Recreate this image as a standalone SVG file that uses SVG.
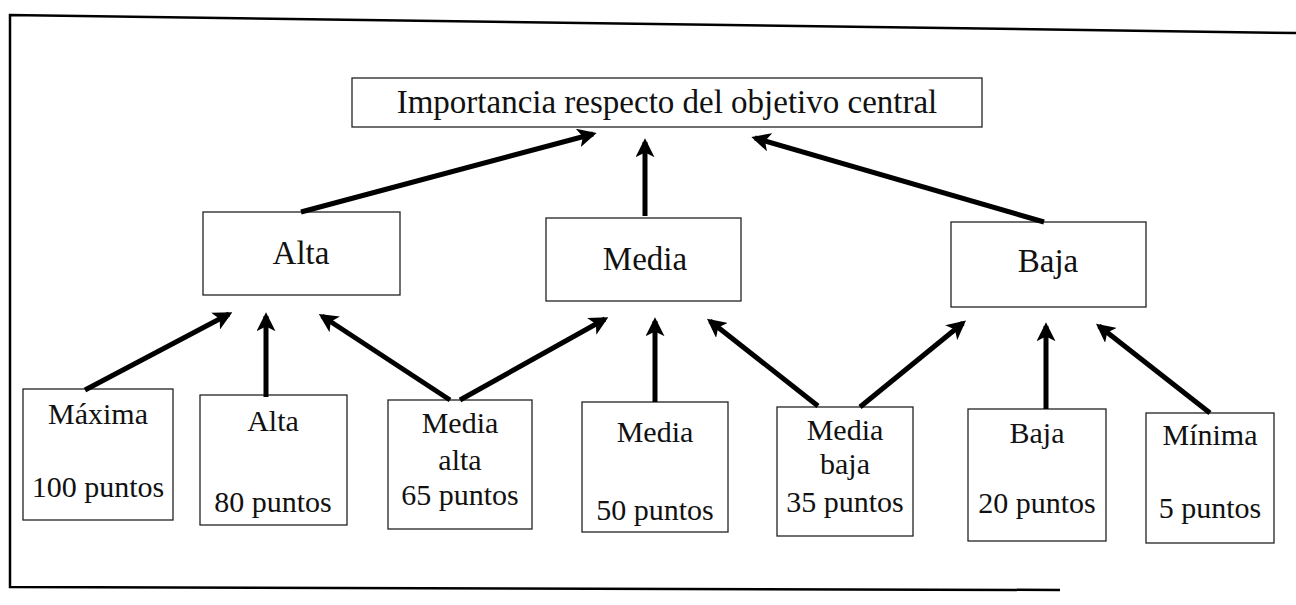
<svg xmlns="http://www.w3.org/2000/svg" width="1296" height="605" viewBox="0 0 1296 605">
<defs>
<style>
.box{fill:#fff;stroke:#222;stroke-width:1.3}
.t{font-family:"Liberation Serif","Times New Roman",serif;fill:#111;text-anchor:middle}
.big{font-size:33px}
.sm{font-size:30px}
.ar{stroke:#000;stroke-width:5;fill:none;marker-end:url(#ah)}
.frame{stroke:#000;stroke-width:2.5;fill:none}
</style>
<marker id="ah" viewBox="0 0 10 10" refX="8" refY="5" markerWidth="3.8" markerHeight="3.8" orient="auto" markerUnits="strokeWidth">
<path d="M0,0 L10,5 L0,10 L2.5,5 z" fill="#000"/>
</marker>
</defs>
<rect width="1296" height="605" fill="#fff"/>
<g id="frame">
<path class="frame" d="M1296,33 L10,15 L10,587 L1060,590"/>
</g>
<g id="top">
<rect class="box" x="352" y="78" width="630" height="49"/>
<text class="t big" x="667" y="113">Importancia respecto del objetivo central</text>
</g>
<g id="alta">
<rect class="box" x="203" y="212" width="197" height="83"/>
<text class="t big" x="301" y="264">Alta</text>
</g>
<g id="media">
<rect class="box" x="546" y="218" width="195" height="83"/>
<text class="t big" x="645" y="270">Media</text>
</g>
<g id="baja">
<rect class="box" x="951" y="222" width="195" height="85"/>
<text class="t big" x="1048" y="272">Baja</text>
</g>
<g id="maxima">
<rect class="box" x="23" y="389" width="150" height="131"/>
<text class="t sm" x="98" y="424">Máxima</text>
<text class="t sm" x="98" y="497">100 puntos</text>
</g>
<g id="alta2">
<rect class="box" x="200" y="395" width="147" height="130"/>
<text class="t sm" x="273" y="431">Alta</text>
<text class="t sm" x="273" y="512">80 puntos</text>
</g>
<g id="mediaalta">
<rect class="box" x="388" y="400" width="144" height="129"/>
<text class="t sm" x="460" y="433">Media</text>
<text class="t sm" x="460" y="470">alta</text>
<text class="t sm" x="460" y="505">65 puntos</text>
</g>
<g id="media2">
<rect class="box" x="582" y="402" width="146" height="130"/>
<text class="t sm" x="655" y="442">Media</text>
<text class="t sm" x="655" y="520">50 puntos</text>
</g>
<g id="mediabaja">
<rect class="box" x="777" y="407" width="136" height="129"/>
<text class="t sm" x="845" y="440">Media</text>
<text class="t sm" x="845" y="474">baja</text>
<text class="t sm" x="845" y="512">35 puntos</text>
</g>
<g id="baja2">
<rect class="box" x="968" y="409" width="138" height="132"/>
<text class="t sm" x="1037" y="443">Baja</text>
<text class="t sm" x="1037" y="513">20 puntos</text>
</g>
<g id="minima">
<rect class="box" x="1146" y="413" width="128" height="130"/>
<text class="t sm" x="1210" y="445">Mínima</text>
<text class="t sm" x="1210" y="518">5 puntos</text>
</g>
<g id="connectors">
<line class="ar" x1="301" y1="212" x2="593" y2="134"/>
<line class="ar" x1="645" y1="216" x2="645" y2="142"/>
<line class="ar" x1="1044" y1="222" x2="755" y2="138"/>
<line class="ar" x1="85" y1="390" x2="229" y2="314"/>
<line class="ar" x1="266" y1="397" x2="266" y2="316"/>
<line class="ar" x1="450" y1="400" x2="322" y2="316"/>
<line class="ar" x1="460" y1="400" x2="605" y2="319"/>
<line class="ar" x1="655" y1="402" x2="655" y2="321"/>
<line class="ar" x1="818" y1="406" x2="710" y2="321"/>
<line class="ar" x1="860" y1="407" x2="963" y2="323"/>
<line class="ar" x1="1046" y1="409" x2="1046" y2="326"/>
<line class="ar" x1="1210" y1="413" x2="1099" y2="326"/>
</g>
</svg>
